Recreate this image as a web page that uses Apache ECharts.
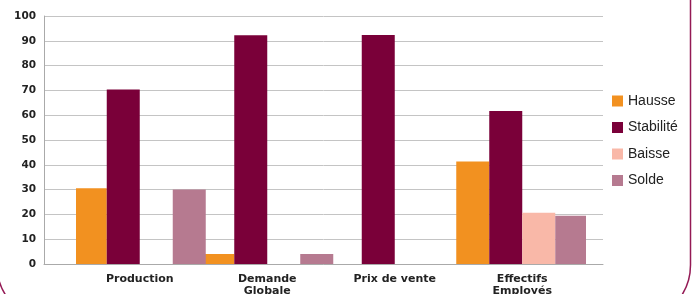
<!DOCTYPE html>
<html>
<head>
<meta charset="utf-8">
<style>
    html, body { margin: 0; padding: 0; background: #fff; }
    #chart { width: 695px; height: 294px; }
</style>
</head>
<body>
<div id="chart"></div>
<script src="https://cdn.jsdelivr.net/npm/echarts@6/dist/echarts.min.js"></script>
<script>
    var categories = ['Production', 'Demande\nGlobale', 'Prix de vente', 'Effectifs\nEmployés'];
    var hausse = [30.5, 4, 0, 41.3];
    var stabilite = [70.4, 92.2, 92.3, 61.7];
    var baisse = [0, 0, 0, 20.7];
    var solde = [30, 4, 0, 19.5];
    var seriesNames = ['Hausse', 'Stabilité', 'Baisse', 'Solde'];
    var colors = ['#f29120', '#7a0039', '#f9b8a8', '#b67a90'];

    var myChart = echarts.init(document.getElementById('chart'));
    var axisFont = { fontFamily: 'DejaVu Sans', fontWeight: 'bold', fontSize: 10.5, color: '#222' };

    function bar(name, data, i) {
        return {
            name: name,
            type: 'bar',
            data: data,
            xAxisIndex: 1,
            yAxisIndex: 1,
            barWidth: 33,
            barGap: '0%',
            itemStyle: { color: colors[i] }
        };
    }

    option = {
        animation: false,
        color: colors,
        graphic: [{
            type: 'rect',
            shape: { x: -3, y: -80, width: 693.5, height: 401, r: 56 },
            style: { fill: 'none', stroke: '#941a55', lineWidth: 1.5 },
            silent: true
        }],
        // grid 0 : frame of the plot (gridlines, y axis), grid 1 : the bars
        grid: [
            { left: 44, right: 92, top: 16, bottom: 30, outerBoundsMode: 'none', containLabel: false },
            { left: 76, right: 109, top: 16, bottom: 30, outerBoundsMode: 'none', containLabel: false }
        ],
        legend: {
            orient: 'vertical',
            left: 612,
            top: 94,
            padding: 0,
            itemWidth: 11,
            itemHeight: 11,
            itemGap: 12.5,
            icon: 'rect',
            textStyle: { fontFamily: 'Liberation Sans', fontSize: 14, color: '#222', lineHeight: 14 },
            data: seriesNames
        },
        xAxis: [{
            type: 'category',
            gridIndex: 0,
            data: categories,
            axisLine: { lineStyle: { color: '#aaa', width: 1 } },
            axisTick: { show: false },
            axisLabel: { show: false }
        }, {
            type: 'category',
            gridIndex: 1,
            data: categories,
            axisLine: { show: false },
            axisTick: { show: false },
            axisLabel: Object.assign({ margin: 9, lineHeight: 12, interval: 0 }, axisFont, { fontSize: 11 })
        }],
        yAxis: [{
            type: 'value',
            gridIndex: 0,
            min: 0,
            max: 100,
            interval: 10,
            axisLine: { show: true, lineStyle: { color: '#aaa', width: 1 } },
            axisTick: { show: false },
            splitLine: { lineStyle: { color: '#c4c4c4', width: 1 } },
            axisLabel: Object.assign({ margin: 8 }, axisFont)
        }, {
            type: 'value',
            gridIndex: 1,
            min: 0,
            max: 100,
            interval: 10,
            show: false
        }],
        series: [
            bar('Hausse', hausse, 0),
            bar('Stabilité', stabilite, 1),
            bar('Baisse', baisse, 2),
            bar('Solde', solde, 3)
        ]
    };

    myChart.setOption(option);
</script>
</body>
</html>
